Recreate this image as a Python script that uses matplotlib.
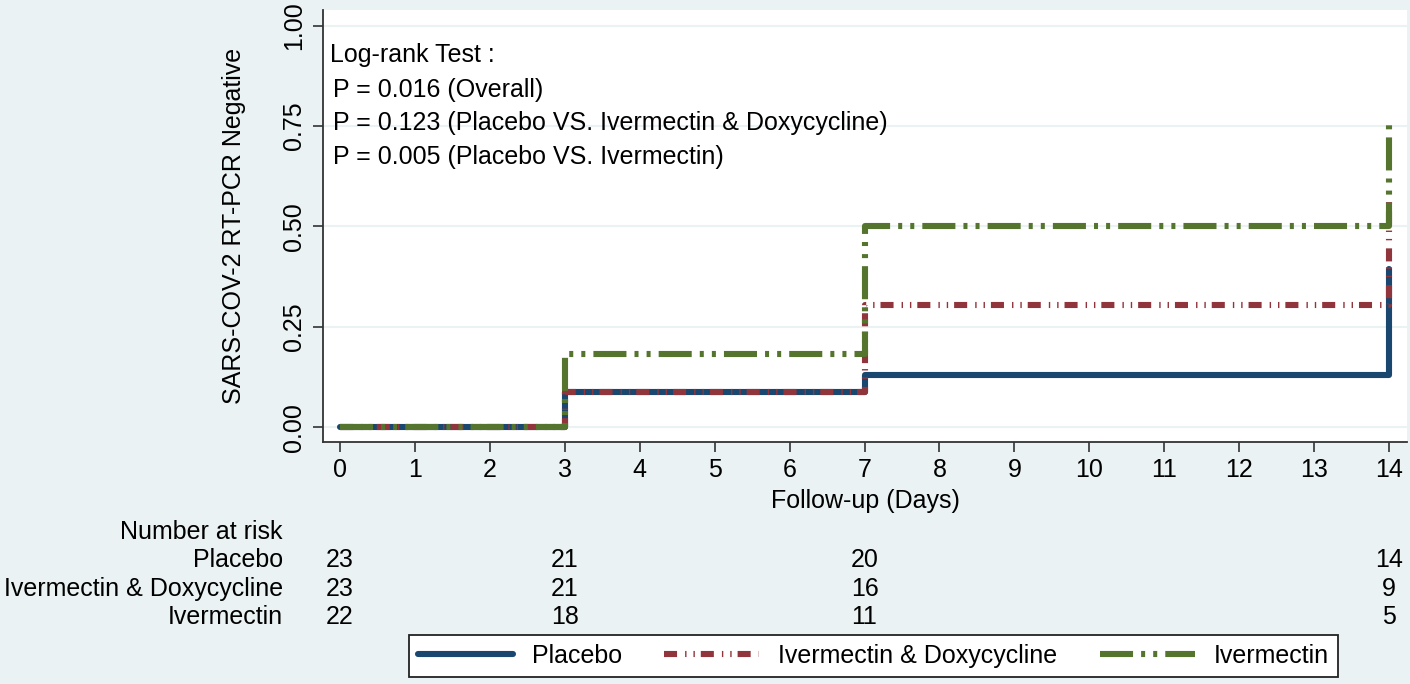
import matplotlib
matplotlib.use('Agg')
import matplotlib.pyplot as plt
import matplotlib.transforms as mtransforms

# ---------------- data ----------------
days = [0, 3, 7, 14]
placebo = [0.0, 0.087, 0.130, 0.395]
ivm_doxy = [0.0, 0.087, 0.304, 0.568]
ivm = [0.0, 0.182, 0.500, 0.760]
group_names = ['Placebo', 'Ivermectin & Doxycycline', 'Ivermectin']

risk_days = [0, 3, 7, 14]
risk_placebo = [23, 21, 20, 14]
risk_ivm_doxy = [23, 21, 16, 9]
risk_ivm = [22, 18, 11, 5]

x_ticks = list(range(0, 15))
y_ticks = [0.0, 0.25, 0.5, 0.75, 1.0]
y_ticklabels = ['0.00', '0.25', '0.50', '0.75', '1.00']

logrank_lines = ['Log-rank Test :',
                 'P = 0.016 (Overall)',
                 'P = 0.123 (Placebo VS. Ivermectin & Doxycycline)',
                 'P = 0.005 (Placebo VS. Ivermectin)']

# ---------------- style ----------------
plt.rcParams['font.family'] = ['Liberation Sans', 'DejaVu Sans']
plt.rcParams['lines.scale_dashes'] = False
FS = 18
BG = '#EAF2F3'
C_BLUE = '#1A476F'
C_RED = '#90353B'
C_GREEN = '#55752F'

W, H = 1410, 684
fig = plt.figure(figsize=(W / 100, H / 100), dpi=100)
fig.patch.set_facecolor(BG)

L, R, T, B = 323, 1407, 10, 442
ax = fig.add_axes([L / W, 1 - B / H, (R - L) / W, (B - T) / H])
ax.set_facecolor('white')

lw = 4.4
l1, = ax.step(days, placebo, where='post', color=C_BLUE, lw=lw,
              solid_capstyle='round', solid_joinstyle='round', zorder=3)
l2, = ax.step(days, ivm_doxy, where='post', color=C_RED, lw=lw,
              dashes=[9.4, 5.8, 1.0, 5.0, 1.0, 4.3], dash_capstyle='butt', zorder=4)
l3, = ax.step(days, ivm, where='post', color=C_GREEN, lw=lw,
              dashes=[23.8, 5.8, 2.9, 5.8, 2.9, 5.8], dash_capstyle='butt', zorder=5)

ax.set_xlim(-0.227, 14.24)
ax.set_ylim(-0.037, 1.039)
ax.set_xticks(x_ticks)
ax.set_yticks(y_ticks)
ax.set_yticklabels(y_ticklabels, rotation=90, va='center')
ax.tick_params(axis='both', labelsize=FS, length=7.2, width=1.2, color='#333333')
ax.tick_params(axis='y', pad=5)
ax.tick_params(axis='x', pad=4)
for lab in ax.get_yticklabels():
    lab.set_rotation_mode('default')

ax.grid(axis='y', color=BG, lw=1.5, zorder=0)
for s in ['top', 'right']:
    ax.spines[s].set_visible(False)
for s in ['left', 'bottom']:
    ax.spines[s].set_color('#333333')
    ax.spines[s].set_linewidth(1.3)

ax.set_xlabel('Follow-up (Days)', fontsize=FS)
ax.xaxis.set_label_coords(0.5, (B - 489) / (B - T))
ax.set_ylabel('SARS-COV-2 RT-PCR Negative', fontsize=FS)
ax.yaxis.set_label_coords((246 - L) / (R - L), 0.5)

# log-rank text
text_y = [55, 90, 123, 157]
text_x = [330, 333, 333, 333]
for s, xx, yy in zip(logrank_lines, text_x, text_y):
    fig.text(xx / W, 1 - yy / H, s, fontsize=FS, ha='left', va='center')

# number at risk table
fig.text(283 / W, 1 - 532 / H, 'Number at risk', fontsize=FS, ha='right', va='center')
blend = mtransforms.blended_transform_factory(ax.transData, fig.transFigure)
rows = [risk_placebo, risk_ivm_doxy, risk_ivm]
row_y = [560, 589, 617]
for name, vals, yy in zip(group_names, rows, row_y):
    fig.text(283 / W, 1 - yy / H, name, fontsize=FS, ha='right', va='center')
    for d, v in zip(risk_days, vals):
        ax.text(d, 1 - yy / H, str(v), transform=blend, fontsize=FS,
                ha='center', va='center', clip_on=False)

# legend
leg = fig.legend([l1, l2, l3], group_names, ncol=3, loc='center',
                 bbox_to_anchor=((405 + 1342) / 2 / W, 1 - 656 / H),
                 fontsize=FS, frameon=True, fancybox=False, framealpha=1,
                 edgecolor='#222222', facecolor='white', numpoints=1,
                 handlelength=3.8, handletextpad=0.76, columnspacing=1.7,
                 borderpad=0.35)
leg.get_frame().set_linewidth(1.3)

fig.savefig('out.png', dpi=100, facecolor=BG)
